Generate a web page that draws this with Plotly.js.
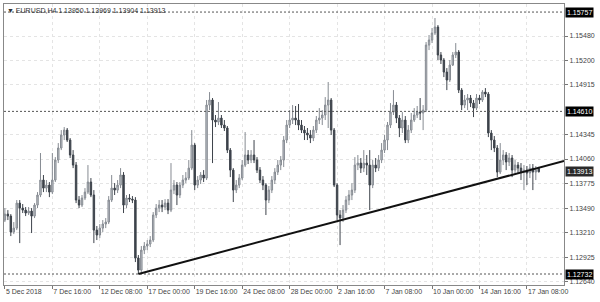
<!DOCTYPE html>
<html>
<head>
<meta charset="utf-8">
<script src="https://cdn.plot.ly/plotly-3.0.1.min.js"></script>
<style>html,body{margin:0;padding:0;background:#fff;}#chart{width:600px;height:302px;}</style>
</head>
<body>
<div id="chart"></div>
<script>
const openP = [1.13355,1.13424,1.13401,1.13216,1.13262,1.13551,1.13493,1.13470,1.13436,1.13459,
1.13401,1.13528,1.13644,1.13817,1.13724,1.13759,1.13678,1.13817,1.14048,1.14187,
1.14337,1.14394,1.14279,1.14106,1.13990,1.13586,1.13528,1.13609,1.13678,1.13794,
1.13644,1.13239,1.13182,1.13262,1.13309,1.13332,1.13586,1.13724,1.13701,1.13759,
1.13875,1.13528,1.13609,1.13597,1.13586,1.12916,1.12777,1.13008,1.13055,1.13078,
1.13124,1.13413,1.13493,1.13528,1.13505,1.13551,1.13470,1.13701,1.13759,1.13644,
1.13759,1.13817,1.13840,1.13955,1.14221,1.13759,1.13817,1.13875,1.13840,1.14683,
1.14741,1.14510,1.14487,1.14533,1.14452,1.14418,1.14163,1.13932,1.13701,1.13759,
1.13840,1.13990,1.14106,1.14048,1.14106,1.14048,1.13932,1.13817,1.13759,1.13586,
1.13701,1.13817,1.13909,1.13990,1.14048,1.14279,1.14452,1.14510,1.14533,1.14510,
1.14452,1.14394,1.14360,1.14337,1.14302,1.14394,1.14510,1.14533,1.14568,1.14683,
1.14741,1.14394,1.13759,1.13413,1.13378,1.13470,1.13586,1.13644,1.13701,1.13990,
1.14013,1.13955,1.14013,1.13990,1.13759,1.13990,1.13955,1.14048,1.14163,1.14279,
1.14452,1.14602,1.14683,1.14533,1.14418,1.14510,1.14279,1.14394,1.14510,1.14568,
1.14602,1.14591,1.14625,1.15376,1.15434,1.15515,1.15584,1.15261,1.15203,1.15064,
1.14972,1.15145,1.15261,1.15295,1.14856,1.14683,1.14741,1.14764,1.14706,1.14648,
1.14764,1.14741,1.14833,1.14810,1.14360,1.14279,1.14187,1.13909,1.14048,1.14106,
1.14025,1.14071,1.13932,1.13990,1.13955,1.13909,1.13932,1.13898,1.13955,1.13909,
1.13950];
const highP = [1.13493,1.13470,1.13424,1.13332,1.13586,1.13586,1.13540,1.13505,1.13505,1.13493,
1.13551,1.13678,1.14129,1.13875,1.13817,1.13794,1.14129,1.14082,1.14244,1.14394,
1.14429,1.14418,1.14302,1.14163,1.14025,1.13632,1.13644,1.13724,1.13990,1.13840,
1.13701,1.13286,1.13309,1.13355,1.13378,1.13632,1.13875,1.13782,1.13817,1.13955,
1.13909,1.13644,1.13655,1.13632,1.13620,1.12951,1.13055,1.13101,1.13124,1.13170,
1.13447,1.13540,1.13586,1.13586,1.13597,1.13597,1.14013,1.13817,1.13794,1.13794,
1.13875,1.13909,1.14048,1.14394,1.14244,1.13863,1.13909,1.13932,1.14741,1.14833,
1.14764,1.14568,1.14718,1.14568,1.14510,1.14441,1.14187,1.13955,1.13817,1.13886,
1.14048,1.14371,1.14163,1.14163,1.14279,1.14082,1.13967,1.13863,1.13782,1.13748,
1.13863,1.13955,1.14048,1.14094,1.14325,1.14510,1.14625,1.14683,1.14672,1.14695,
1.14510,1.14441,1.14418,1.14394,1.14441,1.14556,1.14648,1.14625,1.14775,1.14949,
1.14764,1.14418,1.13782,1.13470,1.13528,1.13632,1.13701,1.13782,1.14082,1.14106,
1.14071,1.14163,1.14106,1.14163,1.14048,1.14071,1.14106,1.14244,1.14337,1.14487,
1.14706,1.14856,1.14718,1.14568,1.14602,1.14556,1.14452,1.14591,1.14648,1.14672,
1.14764,1.14683,1.15411,1.15492,1.15572,1.15688,1.15607,1.15295,1.15226,1.15110,
1.15203,1.15295,1.15399,1.15318,1.14879,1.14799,1.14810,1.14799,1.14741,1.14810,
1.14799,1.14856,1.14879,1.14833,1.14394,1.14325,1.14221,1.14244,1.14163,1.14140,
1.14129,1.14106,1.14048,1.14025,1.14013,1.13990,1.13979,1.14002,1.14002,1.13979,
1.13969];
const lowP = [1.13332,1.13355,1.13170,1.13193,1.13239,1.13089,1.13436,1.13401,1.13413,1.13205,
1.13378,1.13493,1.13620,1.13678,1.13678,1.13620,1.13655,1.13794,1.14013,1.14163,
1.14279,1.14256,1.14071,1.13955,1.13551,1.13493,1.13505,1.13586,1.13655,1.13620,
1.13089,1.13124,1.13147,1.13216,1.13262,1.13309,1.13563,1.13644,1.13667,1.13724,
1.13436,1.13493,1.13563,1.13551,1.12870,1.12732,1.12754,1.12962,1.13008,1.13043,
1.13101,1.13378,1.13447,1.13447,1.13470,1.13424,1.13447,1.13655,1.13528,1.13609,
1.13724,1.13782,1.13817,1.13932,1.13701,1.13724,1.13771,1.13794,1.13817,1.14625,
1.14013,1.14429,1.14452,1.14418,1.14383,1.14129,1.13851,1.13563,1.13667,1.13724,
1.13817,1.13967,1.14002,1.14013,1.14013,1.13898,1.13782,1.13701,1.13413,1.13551,
1.13667,1.13771,1.13875,1.13932,1.13967,1.14244,1.14418,1.14464,1.14452,1.14394,
1.14360,1.14279,1.14279,1.14244,1.14267,1.14360,1.14464,1.14452,1.14510,1.14418,
1.14337,1.13736,1.13355,1.13066,1.13332,1.13436,1.13528,1.13586,1.13667,1.13932,
1.13898,1.13909,1.13875,1.13470,1.13724,1.13909,1.13921,1.14013,1.14129,1.14163,
1.14418,1.14568,1.14475,1.14313,1.14360,1.14244,1.14244,1.14360,1.14487,1.14533,
1.14510,1.14394,1.14602,1.15318,1.15399,1.15492,1.15203,1.15157,1.15006,1.14856,
1.14949,1.15134,1.15226,1.14822,1.14625,1.14648,1.14625,1.14660,1.14544,1.14625,
1.14695,1.14718,1.14775,1.14313,1.14163,1.14140,1.13851,1.13886,1.13990,1.13932,
1.13979,1.13851,1.13886,1.13898,1.13817,1.13701,1.13759,1.13840,1.13701,1.13817,
1.13904];
const closeP = [1.13424,1.13401,1.13216,1.13262,1.13551,1.13493,1.13470,1.13436,1.13459,1.13401,
1.13528,1.13644,1.13817,1.13724,1.13759,1.13678,1.13817,1.14048,1.14187,1.14337,
1.14394,1.14279,1.14106,1.13990,1.13586,1.13528,1.13609,1.13678,1.13794,1.13644,
1.13239,1.13182,1.13262,1.13309,1.13332,1.13586,1.13724,1.13701,1.13759,1.13875,
1.13528,1.13609,1.13597,1.13586,1.12916,1.12777,1.13008,1.13055,1.13078,1.13124,
1.13413,1.13493,1.13528,1.13505,1.13551,1.13470,1.13701,1.13759,1.13644,1.13759,
1.13817,1.13840,1.13955,1.14221,1.13759,1.13817,1.13875,1.13840,1.14683,1.14741,
1.14510,1.14487,1.14533,1.14452,1.14418,1.14163,1.13932,1.13701,1.13759,1.13840,
1.13990,1.14106,1.14048,1.14106,1.14048,1.13932,1.13817,1.13759,1.13586,1.13701,
1.13817,1.13909,1.13990,1.14048,1.14279,1.14452,1.14510,1.14533,1.14510,1.14452,
1.14394,1.14360,1.14337,1.14302,1.14394,1.14510,1.14533,1.14568,1.14683,1.14741,
1.14394,1.13759,1.13413,1.13378,1.13470,1.13586,1.13644,1.13701,1.13990,1.14013,
1.13955,1.14013,1.13990,1.13759,1.13990,1.13955,1.14048,1.14163,1.14279,1.14452,
1.14602,1.14683,1.14533,1.14418,1.14510,1.14279,1.14394,1.14510,1.14568,1.14602,
1.14591,1.14625,1.15376,1.15434,1.15515,1.15584,1.15261,1.15203,1.15064,1.14972,
1.15145,1.15261,1.15295,1.14856,1.14683,1.14741,1.14764,1.14706,1.14648,1.14764,
1.14741,1.14833,1.14810,1.14360,1.14279,1.14187,1.13909,1.14048,1.14106,1.14025,
1.14071,1.13932,1.13990,1.13955,1.13909,1.13932,1.13898,1.13955,1.13909,1.13932,
1.13913];

const xLabels = ['5 Dec 2018','7 Dec 16:00','12 Dec 08:00','17 Dec 00:00','19 Dec 16:00','24 Dec 08:00',
  '28 Dec 00:00','2 Jan 16:00','7 Jan 08:00','10 Jan 00:00','14 Jan 16:00','17 Jan 08:00'];
const yTicks = [1.15480,1.15200,1.14915,1.14345,1.14060,1.13775,1.13490,1.13210,1.12925,1.12640];
const levels = [1.15757,1.14610,1.12732];
const trendX = [45,188.5];
const trendY = [1.12732,1.14036];
const symbol = 'EURUSD,H4';

const barIndex = closeP.map((_, i) => i);
const last = closeP.length - 1;
const lastPrice = closeP[last];
const fnt = 'Liberation Sans, Arial, sans-serif';

const trace = {
  type: 'candlestick',
  x: barIndex, open: openP, high: highP, low: lowP, close: closeP,
  increasing: {line: {color: '#868b92', width: 1}, fillcolor: '#bfc3c8'},
  decreasing: {line: {color: '#3d434b', width: 1}, fillcolor: '#3d434b'},
  whiskerwidth: 0,
  hoverinfo: 'skip',
  showlegend: false
};

const shapes = levels.map(v => ({
  type: 'line', xref: 'paper', x0: 0, x1: 1, yref: 'y', y0: v, y1: v,
  line: {color: '#555', width: 1, dash: '2px,2px'}
}));
shapes.push({
  type: 'line', xref: 'x', yref: 'y', x0: trendX[0], y0: trendY[0], x1: trendX[1], y1: trendY[1],
  line: {color: '#111', width: 2}
});

const annotations = levels.concat([lastPrice]).map(v => ({
  xref: 'paper', x: 1, xanchor: 'left', xshift: 1, yref: 'y', y: v, yanchor: 'middle',
  text: v.toFixed(5), showarrow: false, bgcolor: v === lastPrice ? '#2a2a2a' : '#000',
  borderpad: 1, font: {family: fnt, size: 7, color: '#fff'}
}));
annotations.push({
  xref: 'paper', x: 0, xanchor: 'left', xshift: 1, yref: 'paper', y: 1, yanchor: 'top', yshift: -1,
  text: '▼ ' + symbol + ' ' + [openP[last], highP[last], lowP[last], closeP[last]].map(v => v.toFixed(5)).join(' '),
  showarrow: false, font: {family: fnt, size: 7, color: '#333'}
});

const layout = {
  width: 600, height: 302,
  margin: {l: 4, r: 36, t: 4, b: 17},
  paper_bgcolor: '#fff', plot_bgcolor: '#fff',
  xaxis: {
    type: 'linear', range: [-0.3, 188.5], fixedrange: true,
    rangeslider: {visible: false},
    tickvals: xLabels.map((_, k) => k * 16), ticktext: xLabels,
    tickangle: 0, automargin: false,
    ticks: 'outside', ticklen: 3, tickcolor: '#777',
    ticklabelposition: 'outside right',
    tickfont: {family: fnt, size: 7, color: '#444'},
    showgrid: true, gridcolor: '#e4e4e4', griddash: 'dot', gridwidth: 1,
    showline: true, linecolor: '#888', linewidth: 1, mirror: true, zeroline: false
  },
  yaxis: {
    side: 'right', range: [1.12605, 1.15850], fixedrange: true, automargin: false,
    tickvals: yTicks, ticktext: yTicks.map(v => v.toFixed(5)),
    ticks: 'outside', ticklen: 3, tickcolor: '#777',
    tickfont: {family: fnt, size: 7, color: '#444'},
    showgrid: true, gridcolor: '#e4e4e4', griddash: 'dot', gridwidth: 1,
    showline: true, linecolor: '#888', linewidth: 1, mirror: true, zeroline: false
  },
  shapes: shapes,
  annotations: annotations
};

Plotly.newPlot('chart', [trace], layout, {staticPlot: true, displayModeBar: false});
</script>
</body>
</html>
